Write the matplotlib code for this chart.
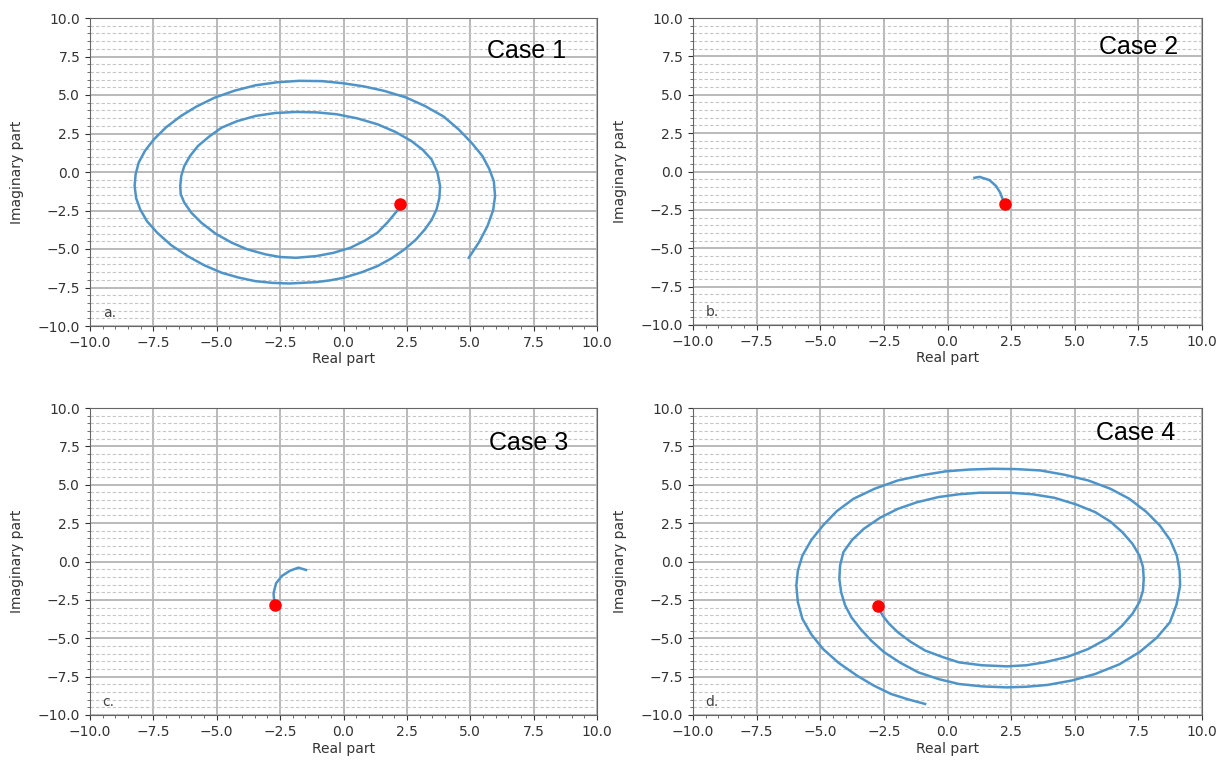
import numpy as np
import matplotlib
matplotlib.use("Agg")
import matplotlib.pyplot as plt
from matplotlib.ticker import MultipleLocator

# trajectories (real, imaginary)
a_re = [2.24, 2.15, 2.0, 1.72, 1.34, 0.85, 0.27, -0.4, -1.07, -1.87, -2.5, -3.07, -3.8, -4.41,
        -5.05, -5.61, -6.0, -6.28, -6.42, -6.44, -6.4, -6.28, -6.05, -5.74, -5.3, -4.81, -4.2,
        -3.47, -2.7, -1.87, -1.05, -0.27, 0.55, 1.34, 2.05, 2.67, 3.12, 3.47, 3.7, 3.81, 3.78,
        3.67, 3.48, 3.21, 2.85, 2.40, 1.9, 1.34, 0.7, 0.0, -0.55, -1.07, -2.14, -2.8, -3.47,
        -4.15, -4.81, -5.5, -6.15, -6.8, -7.35, -7.75, -8.02, -8.18, -8.24, -8.2, -8.08, -7.83,
        -7.48, -7.0, -6.41, -5.8, -5.08, -4.3, -3.47, -2.6, -1.74, -0.85, 0.0, 0.8, 1.60, 2.45,
        3.21, 3.95, 4.54, 5.05, 5.48, 5.75, 5.93, 5.98, 5.9, 5.68, 5.35, 4.94]
a_im = [-2.06, -2.45, -2.75, -3.3, -3.94, -4.45, -4.92, -5.25, -5.46, -5.57, -5.52, -5.35, -5.02,
        -4.59, -4.0, -3.29, -2.65, -1.99, -1.45, -0.91, -0.25, 0.39, 1.05, 1.69, 2.3, 2.88, 3.3,
        3.64, 3.83, 3.90, 3.87, 3.75, 3.48, 3.10, 2.6, 2.02, 1.45, 0.82, 0.0, -0.91, -1.7,
        -2.43, -3.1, -3.73, -4.4, -5.03, -5.6, -6.11, -6.52, -6.87, -7.04, -7.15, -7.24, -7.2,
        -7.09, -6.85, -6.54, -6.05, -5.46, -4.75, -3.94, -3.2, -2.43, -1.7, -0.91, -0.15, 0.61,
        1.38, 2.12, 2.9, 3.64, 4.25, 4.83, 5.28, 5.63, 5.83, 5.92, 5.9, 5.76, 5.56, 5.27, 4.85,
        4.29, 3.6, 2.77, 1.9, 1.04, 0.2, -0.6, -1.56, -2.5, -3.51, -4.55, -5.57]

b_re = [2.24, 2.17, 2.07, 1.91, 1.65, 1.26, 1.06]
b_im = [-2.14, -1.82, -1.38, -0.95, -0.56, -0.35, -0.41]

c_re = [-2.72, -2.76, -2.66, -2.43, -2.11, -1.78, -1.48]
c_im = [-2.83, -2.07, -1.42, -0.94, -0.60, -0.40, -0.55]

d_re = [-2.75, -2.55, -2.3, -1.95, -1.45, -0.88, -0.2, 0.45, 1.35, 2.33, 3.1, 3.80, 4.7, 5.53,
        6.3, 6.87, 7.27, 7.54, 7.68, 7.71, 7.68, 7.54, 7.27, 6.87, 6.4, 5.80, 5.05, 4.20, 3.35,
        2.46, 1.26, 0.45, -0.35, -1.2, -1.95, -2.65, -3.29, -3.75, -4.09, -4.22, -4.25, -4.18,
        -4.02, -3.77, -3.42, -3.0, -2.49, -1.85, -1.15, -0.35, 0.45, 1.4, 2.33, 3.1, 3.93, 4.9,
        5.80, 6.75, 7.54, 8.22, 8.74, 9.0, 9.14, 9.12, 9.01, 8.75, 8.34, 7.8, 7.14, 6.4, 5.53,
        4.6, 3.66, 2.7, 1.79, 0.85, -0.08, -1.0, -1.95, -2.85, -3.69, -4.35, -4.89, -5.35,
        -5.70, -5.88, -5.94, -5.88, -5.70, -5.35, -4.89, -4.28, -3.56, -2.9, -2.22, -1.55, -0.88]
d_im = [-2.87, -3.52, -4.05, -4.61, -5.23, -5.80, -6.22, -6.57, -6.76, -6.83, -6.76, -6.57, -6.22,
        -5.70, -5.0, -4.17, -3.4, -2.65, -1.9, -1.13, -0.35, 0.39, 1.15, 1.91, 2.6, 3.22, 3.72,
        4.15, 4.38, 4.48, 4.48, 4.38, 4.20, 3.86, 3.43, 2.85, 2.13, 1.4, 0.61, -0.25, -1.13,
        -2.0, -2.87, -3.65, -4.39, -5.15, -5.91, -6.6, -7.22, -7.66, -7.98, -8.14, -8.20, -8.16,
        -8.04, -7.75, -7.33, -6.7, -5.91, -4.97, -3.96, -2.8, -1.57, -0.6, 0.39, 1.4, 2.35,
        3.25, 4.09, 4.74, 5.28, 5.65, 5.93, 6.02, 6.04, 5.99, 5.87, 5.62, 5.28, 4.75, 4.09,
        3.28, 2.35, 1.4, 0.39, -0.6, -1.57, -2.65, -3.74, -4.75, -5.70, -6.6, -7.43, -8.08,
        -8.63, -8.98, -9.28]

cases = ["Case 1", "Case 2", "Case 3", "Case 4"]
letters = ["a.", "b.", "c.", "d."]
curves = [(a_re, a_im), (b_re, b_im), (c_re, c_im), (d_re, d_im)]

W, H = 1228, 760
fig = plt.figure(figsize=(W / 100, H / 100), dpi=100)

# axes boxes in pixels: left, top, right, bottom
boxes = [(90, 18, 597, 326), (693, 18, 1202, 325), (90, 408, 597, 715), (693, 408, 1202, 715)]
case_pos = [(0.94, 0.893), (0.953, 0.905), (0.943, 0.886), (0.947, 0.918)]

for i in range(4):
    l, t, r, b = boxes[i]
    ax = fig.add_axes([l / W, 1 - b / H, (r - l) / W, (b - t) / H])
    re, im = curves[i]
    ax.plot(re, im, color="#4f94c8", lw=1.8, zorder=3)
    ax.plot(re[0], im[0], "o", color="red", ms=8, zorder=4)
    ax.set_xlim(-10, 10)
    ax.set_ylim(-10, 10)
    ax.xaxis.set_major_locator(MultipleLocator(2.5))
    ax.yaxis.set_major_locator(MultipleLocator(2.5))
    ax.xaxis.set_minor_locator(MultipleLocator(0.5))
    ax.yaxis.set_minor_locator(MultipleLocator(0.5))
    ax.grid(which="major", color="#b4b4b4", lw=1.3)
    ax.grid(which="minor", axis="y", color="#c6c6c6", lw=0.8, dashes=(3, 2))
    ax.tick_params(labelsize=10, colors="#333333")
    ax.tick_params(which="minor", length=2, colors="#555555")
    for s in ax.spines.values():
        s.set_color("#666666")
    ax.set_xlabel("Real part", fontsize=10, color="#333333", labelpad=2)
    ax.set_ylabel("Imaginary part", fontsize=10, color="#333333")
    ax.yaxis.set_label_coords(-0.13, 0.5)
    ax.text(case_pos[i][0], case_pos[i][1], cases[i], transform=ax.transAxes,
            ha="right", va="center", fontsize=18, family="Liberation Sans", color="black")
    ax.text(0.025, 0.02, letters[i], transform=ax.transAxes, ha="left", va="bottom",
            fontsize=10, color="#444444")

fig.savefig("out.png", dpi=100)
